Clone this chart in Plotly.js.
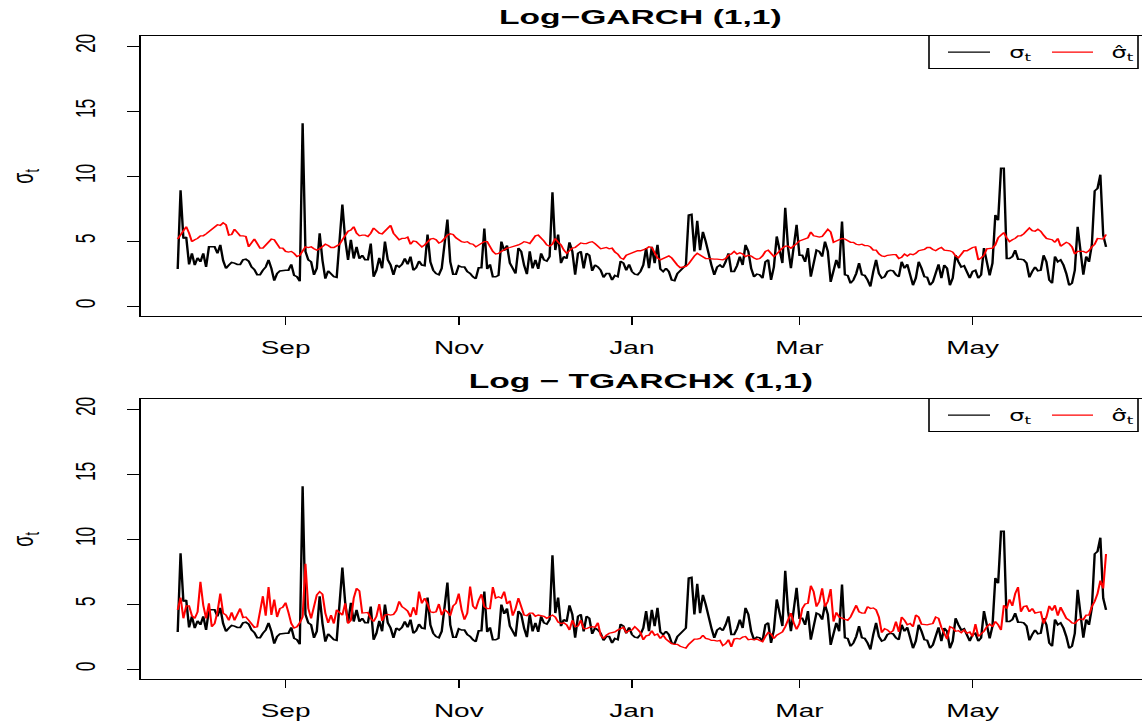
<!DOCTYPE html>
<html>
<head>
<meta charset="utf-8">
<script src="https://cdn.plot.ly/plotly-3.0.1.min.js"></script>
<style>
html,body{margin:0;padding:0;background:#fff;overflow:hidden;width:1142px;height:727px;}
#chart{width:714px;height:727px;transform:scaleX(1.59944);transform-origin:0 0;}
</style>
</head>
<body>
<div id="chart"></div>
<script>
// ---------------- DATA ----------------
const startDate = '2018-07-25';

// observed volatility (sigma_t), daily
const sigma = [
2.85,8.9,5.2,5.3,3.2,4.05,3.15,3.7,3.4,4.05,3.0,4.55,4.55,4.55,4.05,4.7,3.5,2.9,3.15,3.35,
3.3,3.2,3.2,3.55,3.6,3.45,3.0,2.8,2.4,2.4,2.75,3.0,3.55,2.9,1.95,2.5,2.7,2.75,2.75,2.75,
3.2,2.35,2.25,1.9,14.05,4.2,3.55,3.4,2.4,2.9,5.6,3.5,2.1,2.7,2.5,2.25,2.2,4.7,7.8,5.1,
3.55,5.1,3.65,4.55,3.65,3.9,3.55,3.55,4.8,2.25,2.75,3.7,2.9,4.95,3.55,3.15,2.4,3.15,3.0,3.2,
3.65,3.2,3.8,2.75,2.95,3.45,3.15,3.1,5.5,3.4,2.75,2.5,2.4,2.9,4.7,6.65,3.4,2.45,2.45,3.1,
3.0,3.0,2.65,2.5,2.25,2.1,2.95,2.95,5.95,2.85,3.2,2.25,2.25,2.35,4.95,4.25,4.65,3.3,2.9,2.5,
4.45,4.2,3.15,2.45,4.2,2.9,3.55,2.85,4.05,3.55,3.45,3.8,8.75,4.3,5.5,3.3,3.8,3.65,4.9,4.2,
2.4,4.05,4.2,2.9,4.05,3.9,2.7,3.15,3.0,2.75,2.2,2.5,2.5,2.0,2.35,2.25,3.45,3.3,2.75,3.2,
2.65,2.45,2.4,2.65,3.15,4.45,2.9,4.55,3.3,4.7,2.85,2.65,2.9,2.65,2.0,1.95,2.5,2.7,2.85,3.15,
7.0,7.05,4.2,6.55,4.3,5.7,4.95,3.9,3.15,2.4,3.0,3.15,2.95,3.4,4.05,2.65,2.65,3.1,3.8,3.15,
4.7,4.2,2.9,2.25,2.45,2.4,2.15,3.4,3.55,2.0,3.0,5.35,4.45,3.3,7.55,4.45,2.9,4.45,6.25,3.9,
3.9,3.4,4.45,2.25,3.4,4.3,4.2,3.8,4.95,4.2,1.85,2.65,3.55,2.9,6.5,2.4,2.35,1.75,2.0,2.5,
3.3,2.4,2.35,2.0,1.5,2.65,3.55,2.5,2.15,2.25,2.65,2.75,2.7,2.4,2.25,3.4,2.9,3.2,2.5,1.6,
2.15,3.4,2.9,2.25,2.2,1.6,1.85,2.65,3.2,2.15,3.15,2.9,1.6,2.15,3.9,3.4,3.0,3.1,2.65,2.15,
2.65,2.75,2.15,2.4,4.45,3.4,2.35,3.3,7.0,6.6,10.6,10.6,3.65,3.65,3.8,4.3,3.6,3.6,3.55,3.3,
2.2,2.65,3.0,2.7,2.75,3.9,3.4,2.0,1.75,3.8,3.4,3.55,3.15,2.5,1.6,1.75,2.75,6.1,3.8,2.4,
3.8,3.4,4.7,8.85,9.05,10.1,5.45,4.55
];

// Log-GARCH(1,1) fitted volatility
const garchFit = [
5.15,5.45,5.75,6.1,5.6,4.95,5.1,5.2,5.4,5.4,5.55,5.75,5.9,6.05,6.25,6.2,6.4,6.25,5.45,5.5,
5.9,5.65,5.4,5.4,5.35,4.55,4.85,5.15,4.8,4.45,4.45,4.7,4.95,5.15,5.1,4.7,4.45,4.45,4.2,4.15,
4.2,4.05,3.8,3.9,4.2,4.55,4.5,4.55,4.4,4.3,4.4,4.55,4.75,4.65,4.5,4.5,4.6,4.75,5.1,5.5,
5.75,5.85,6.1,5.6,5.4,5.45,5.45,5.35,5.6,6.0,5.8,5.6,5.55,5.75,6.0,6.2,5.6,5.3,5.1,5.2,
5.2,5.3,4.75,5.0,4.95,4.75,4.55,4.7,4.9,5.15,5.2,5.1,4.85,4.95,5.2,5.45,5.55,5.5,5.25,5.05,
4.95,4.9,4.95,4.8,4.75,4.55,4.7,4.8,4.95,4.95,4.5,4.2,4.0,4.05,4.2,4.35,4.45,4.5,4.55,4.65,
4.7,4.8,4.95,4.9,4.8,5.1,5.4,5.45,5.25,5.0,4.7,4.6,4.75,5.2,4.9,4.7,4.3,4.05,4.25,4.45,
4.5,4.7,4.85,4.8,4.8,4.9,4.95,4.8,4.55,4.4,4.45,4.5,4.4,4.45,4.15,4.0,3.7,3.6,3.9,4.0,
4.05,4.2,4.25,4.25,4.3,4.4,4.55,4.5,4.1,3.7,3.55,3.65,3.8,3.85,3.7,3.4,3.15,2.95,3.0,3.05,
3.25,3.6,3.85,4.05,3.9,3.8,3.65,3.65,3.6,3.6,3.6,3.6,3.55,3.65,3.9,4.0,4.2,4.0,4.1,4.0,
3.8,3.9,3.85,3.7,3.6,3.65,3.85,4.2,4.3,4.05,3.8,4.0,4.25,4.45,4.6,4.6,4.45,4.6,4.8,5.0,
5.1,5.2,5.25,5.7,5.4,5.35,5.3,5.35,5.65,5.9,5.7,4.9,5.0,5.1,5.2,5.15,5.0,4.9,4.9,4.75,
4.7,4.75,4.65,4.65,4.55,4.3,4.3,4.0,3.85,3.8,3.9,3.95,3.95,3.95,3.65,3.75,4.0,3.85,4.0,3.95,
4.05,4.25,4.3,4.35,4.5,4.5,4.35,4.25,4.4,4.5,4.3,4.3,4.25,4.15,3.85,3.7,4.05,4.25,4.25,4.4,
4.5,4.55,3.55,3.7,3.9,4.4,4.45,4.45,4.7,5.25,5.45,5.65,5.25,4.95,5.1,5.2,5.4,5.4,5.55,5.75,
6.0,5.8,5.75,5.9,5.75,5.45,5.2,5.15,5.1,4.9,5.2,4.6,4.8,4.9,4.8,4.55,4.0,4.2,4.2,4.2,
4.1,4.25,4.55,4.75,5.2,5.15,5.15,5.5
];

// Log-TGARCHX(1,1) fitted volatility
const tgarchxFit = [
4.55,5.5,3.9,4.85,4.85,4.1,3.9,4.4,6.7,4.9,3.9,5.05,3.25,3.5,4.4,5.8,4.3,4.15,3.75,4.35,
3.75,4.15,4.65,3.95,4.0,3.75,3.4,3.2,3.25,4.4,5.6,4.1,6.3,4.15,5.35,4.0,4.65,4.75,5.1,4.35,
3.5,3.15,3.25,3.55,4.0,8.1,4.65,3.9,4.65,5.7,5.95,5.75,4.3,3.55,4.15,3.5,4.55,4.35,4.15,5.05,
3.5,3.75,5.45,6.2,6.0,4.3,4.3,4.35,3.9,3.65,4.05,5.0,3.7,4.15,4.2,4.15,4.2,4.5,5.2,4.8,
4.65,4.45,4.0,4.75,4.15,5.95,5.05,5.45,5.0,4.4,4.35,4.4,5.0,4.15,4.55,4.4,4.1,4.85,5.05,5.8,
4.55,3.8,4.3,6.35,4.85,4.6,5.3,5.75,4.8,4.65,4.65,6.3,5.45,5.55,5.45,5.95,5.0,5.25,4.1,4.65,
5.45,4.75,4.15,4.1,4.3,4.3,4.05,4.15,4.1,4.05,3.9,4.0,4.15,4.0,3.6,3.5,3.55,3.4,3.0,3.75,
3.25,3.3,3.75,3.1,3.1,3.2,3.25,3.2,3.55,2.6,2.35,2.6,2.75,2.8,2.85,3.0,3.1,3.2,2.8,2.95,
3.0,3.25,3.05,2.8,2.25,2.55,2.6,2.95,2.6,2.7,2.35,2.6,2.3,2.1,1.95,1.9,1.9,1.75,1.65,1.6,
1.9,2.15,2.3,2.3,2.35,2.6,2.35,2.3,2.2,2.2,2.15,2.2,1.8,1.95,2.25,1.7,2.3,2.35,2.3,2.45,
2.5,2.25,2.3,2.25,2.3,2.2,2.1,2.5,2.8,2.7,2.35,2.6,2.75,2.85,3.25,3.7,4.3,3.55,3.05,3.5,
4.65,5.0,5.05,6.4,5.95,4.8,5.2,6.2,4.8,5.2,6.15,3.65,4.35,4.0,3.9,3.8,3.75,4.0,4.4,4.9,
4.4,4.3,4.3,4.8,4.65,4.7,4.55,4.0,2.8,3.1,3.0,2.8,2.95,3.65,2.85,4.0,3.75,3.4,3.5,3.25,
4.15,4.0,3.45,3.4,3.4,3.45,3.5,4.0,3.9,3.2,2.7,2.3,3.25,3.15,2.9,2.95,2.8,3.0,2.75,2.85,
2.5,3.45,2.5,2.7,2.9,3.25,3.45,3.25,3.65,3.4,3.0,4.9,4.65,5.35,4.85,5.8,6.3,4.4,4.8,4.85,
4.4,4.65,4.3,4.35,4.4,3.5,4.0,4.85,4.5,4.9,4.1,4.75,4.35,3.9,3.75,3.55,3.5,3.75,3.85,3.8,
4.15,4.15,4.8,5.2,5.8,6.8,6.2,8.85
];

const tickDates  = ['2018-09-01','2018-11-01','2019-01-01','2019-03-01','2019-05-01'];
const tickLabels = ['Sep','Nov','Jan','Mar','May'];
const yTickVals  = [0, 5, 10, 15, 20];

const seriesNames = ['σ<sub>t</sub>', 'σ&#770;<sub>t</sub>'];
const seriesColors = ['#000000', '#ff0000'];
const panelTitles = ['<b>Log\u2212GARCH (1,1)</b>', '<b>Log \u2212 TGARCHX (1,1)</b>'];

// ---------------- BUILD ----------------
function buildDates(start, n) {
  const p = start.split('-').map(Number);
  const t0 = Date.UTC(p[0], p[1] - 1, p[2]);
  const out = [];
  for (let i = 0; i < n; i++) {
    out.push(new Date(t0 + i * 86400000).toISOString().slice(0, 10));
  }
  return out;
}
const dates = buildDates(startDate, sigma.length);

const FONT = 'Liberation Sans, Arial, Helvetica, sans-serif';
const LEG_FONT = 'DejaVu Sans, Liberation Sans, sans-serif';
const REF_W = 1142, H = 727;      // final picture size
const W = 714;                     // drawing width before horizontal stretch
const px = v => v / REF_W;         // paper fraction from final x pixel
const py = v => (H - v) / H;       // paper fraction from y pixel

const topDom = [py(316.4), py(35.6)];
const botDom = [py(679.4), py(398.6)];
const xDom = [px(141), 1];
const xRange = ['2018-07-12 01:40', '2019-06-29 16:00'];

function xAxis(anchor) {
  return {
    type: 'date', range: xRange, domain: xDom, anchor: anchor,
    tickmode: 'array', tickvals: tickDates, ticktext: tickLabels,
    ticks: 'outside', ticklen: 8, tickwidth: 1, tickcolor: '#000',
    showline: true, mirror: true, linecolor: '#000', linewidth: 1,
    showgrid: false, zeroline: false,
    tickfont: {family: FONT, size: 17.5, color: '#000'},
    ticklabelstandoff: 8, fixedrange: true
  };
}
function yAxis(anchor, dom) {
  return {
    range: [-0.8, 20.8], domain: dom, anchor: anchor,
    tickmode: 'array', tickvals: yTickVals, ticktext: yTickVals.map(String),
    tickangle: -90,
    ticks: 'outside', ticklen: 8, tickwidth: 1, tickcolor: '#000',
    showline: true, mirror: true, linecolor: '#000', linewidth: 1,
    showgrid: false, zeroline: false,
    tickfont: {family: FONT, size: 17.5, color: '#000'},
    ticklabelstandoff: 13, fixedrange: true
  };
}

const traces = [
  {x: dates, y: sigma, xaxis: 'x', yaxis: 'y', type: 'scatter', mode: 'lines',
   name: seriesNames[0], line: {color: seriesColors[0], width: 1.5}},
  {x: dates, y: garchFit, xaxis: 'x', yaxis: 'y', type: 'scatter', mode: 'lines',
   name: seriesNames[1], line: {color: seriesColors[1], width: 1.3}},
  {x: dates, y: sigma, xaxis: 'x2', yaxis: 'y2', type: 'scatter', mode: 'lines',
   name: seriesNames[0], line: {color: seriesColors[0], width: 1.5}},
  {x: dates, y: tgarchxFit, xaxis: 'x2', yaxis: 'y2', type: 'scatter', mode: 'lines',
   name: seriesNames[1], line: {color: seriesColors[1], width: 1.3}}
];

// legend boxes (R style, drawn as layout decoration)
const shapes = [];
const annotations = [];
function addLegend(topPx) {
  const yMid = topPx + 16.5;
  shapes.push({type: 'rect', xref: 'paper', yref: 'paper',
    x0: px(929), x1: px(1138), y0: py(topPx + 33), y1: py(topPx),
    line: {color: '#000', width: 1}, fillcolor: '#fff', layer: 'above'});
  const lineX = [[948, 990], [1052, 1093]];
  const textX = [1021, 1123];
  for (let i = 0; i < 2; i++) {
    shapes.push({type: 'line', xref: 'paper', yref: 'paper',
      x0: px(lineX[i][0]), x1: px(lineX[i][1]), y0: py(yMid), y1: py(yMid),
      line: {color: seriesColors[i], width: 1.3}, layer: 'above'});
    annotations.push({xref: 'paper', yref: 'paper', x: px(textX[i]), y: py(yMid + 1),
      xanchor: 'center', yanchor: 'middle', text: seriesNames[i], showarrow: false,
      font: {family: LEG_FONT, size: 15, color: '#000'}});
  }
}
addLegend(35.6);
addLegend(398.6);

annotations.push(
  {xref: 'paper', yref: 'paper', x: px(641), y: py(17), xanchor: 'center', yanchor: 'middle',
   text: panelTitles[0], showarrow: false, font: {family: FONT, size: 21, color: '#000'}},
  {xref: 'paper', yref: 'paper', x: px(641), y: py(380), xanchor: 'center', yanchor: 'middle',
   text: panelTitles[1], showarrow: false, font: {family: FONT, size: 21, color: '#000'}},
  {xref: 'paper', yref: 'paper', x: px(25), y: py(176), xanchor: 'center', yanchor: 'middle',
   text: seriesNames[0], textangle: -90, showarrow: false, font: {family: FONT, size: 18, color: '#000'}},
  {xref: 'paper', yref: 'paper', x: px(25), y: py(539), xanchor: 'center', yanchor: 'middle',
   text: seriesNames[0], textangle: -90, showarrow: false, font: {family: FONT, size: 18, color: '#000'}}
);

const layout = {
  width: W, height: H,
  margin: {l: 0, r: 0, t: 0, b: 0},
  paper_bgcolor: '#ffffff', plot_bgcolor: '#ffffff',
  font: {family: FONT, color: '#000'},
  showlegend: false,
  xaxis: xAxis('y'), yaxis: yAxis('x', topDom),
  xaxis2: xAxis('y2'), yaxis2: yAxis('x2', botDom),
  shapes: shapes,
  annotations: annotations
};

Plotly.newPlot('chart', traces, layout, {displayModeBar: false, staticPlot: true, responsive: false});
</script>
</body>
</html>
